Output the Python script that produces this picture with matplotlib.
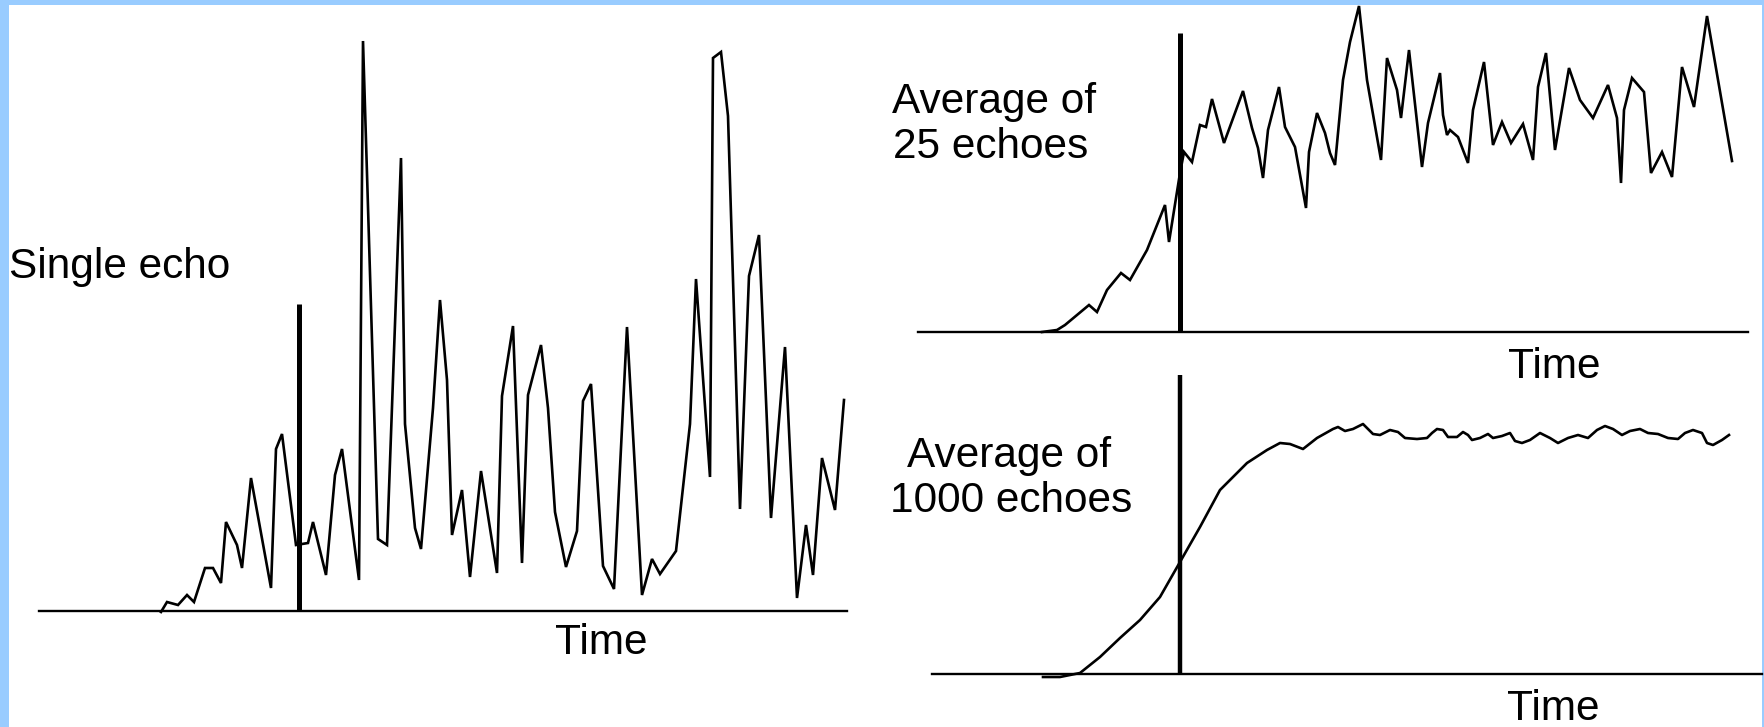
import matplotlib.pyplot as plt
from matplotlib.patches import Rectangle

W, H = 1764, 727

# Single echo: time relative to the transmit pulse, echo amplitude
single_t = [-138, -132, -121, -112, -105, -94, -86, -78, -73, -62, -57, -48, -28, -23, -17, -3,
            9, 14, 27, 36, 43, 60, 64, 79, 88, 102, 106, 116, 122, 134, 141, 148, 153, 163, 171,
            182, 198, 203, 214, 223, 229, 242, 249, 256, 267, 278, 284, 292, 304, 315, 328, 343,
            353, 361, 377, 391, 397, 411, 414, 422, 429, 441, 450, 460, 472, 486, 498, 507, 514,
            523, 536, 545]
single_amp = [-1, 9, 6, 16, 9, 43, 43, 28, 89, 66, 43, 133, 23, 162, 177, 66, 68, 89, 36, 136,
              162, 31, 570, 72, 66, 453, 187, 83, 62, 203, 311, 231, 76, 121, 34, 140, 38, 215,
              285, 48, 216, 266, 203, 99, 44, 80, 210, 227, 45, 22, 284, 16, 52, 37, 60, 187, 332,
              134, 553, 559, 495, 102, 335, 376, 93, 264, 13, 86, 36, 153, 101, 211]

# Average of 25 echoes
avg25_t = [-138, -123, -115, -103, -91, -83, -73, -59, -50, -33, -15, -11, 0, 4, 12, 20, 26, 32,
           44, 63, 72, 78, 83, 88, 99, 105, 115, 126, 129, 137, 145, 150, 155, 163, 170, 179, 187,
           201, 207, 217, 221, 229, 242, 248, 260, 263, 267, 270, 278, 288, 293, 304, 313, 322,
           331, 343, 353, 358, 366, 375, 389, 400, 413, 428, 437, 441, 444, 452, 464, 471, 482,
           492, 502, 514, 527, 552]
avg25_amp = [0, 2, 7, 17, 27, 20, 42, 59, 52, 82, 127, 90, 159, 180, 170, 207, 205, 233, 189,
             241, 204, 184, 154, 202, 245, 205, 185, 124, 180, 219, 199, 179, 167, 252, 290, 326,
             252, 172, 274, 242, 214, 282, 165, 209, 259, 217, 197, 202, 195, 169, 222, 270, 187,
             210, 189, 208, 172, 245, 279, 182, 264, 232, 214, 247, 214, 149, 222, 254, 240, 159,
             180, 155, 265, 225, 316, 171]

# Average of 1000 echoes
avg1000_t = [-137, -120, -100, -80, -60, -40, -20, 0, 20, 40, 67, 87, 100, 110, 123, 137, 153,
             158, 165, 173, 183, 193, 200, 210, 218, 225, 237, 247, 252, 257, 263, 268, 277, 283,
             288, 292, 300, 308, 313, 322, 330, 335, 342, 350, 360, 370, 378, 388, 398, 408, 417,
             425, 433, 442, 450, 460, 468, 478, 488, 498, 505, 513, 522, 527, 533, 542, 549]
avg1000_amp = [-3, -3, 1, 17, 36, 54, 77, 112, 147, 184, 211, 224, 231, 230, 225, 236, 245, 247,
               243, 245, 250, 240, 239, 244, 242, 236, 235, 236, 241, 245, 244, 237, 237, 242, 239,
               234, 236, 240, 236, 238, 241, 233, 231, 234, 241, 236, 231, 236, 239, 236, 244, 248,
               245, 239, 243, 245, 241, 240, 236, 235, 241, 244, 241, 231, 229, 234, 239]

# height of the transmit-pulse marker in each panel
pulse_h = [307, 299, 299]

fig = plt.figure(figsize=(W / 100, H / 100), dpi=100, facecolor='#99ccff')
fig.patches.append(Rectangle((9 / W, 0), (W - 11) / W, (H - 5) / H,
                             transform=fig.transFigure, facecolor='white', edgecolor='none',
                             zorder=-5))


def panel(x0, x1, ybase, ytop, pulse_x):
    ax = fig.add_axes([x0 / W, 1 - ybase / H, (x1 - x0) / W, (ybase - ytop) / H])
    ax.set_xlim(x0 - pulse_x, x1 - pulse_x)
    ax.set_ylim(0, ybase - ytop)
    ax.axis('off')
    ax.patch.set_alpha(0)
    return ax


def label(x, y, s, ha='left'):
    fig.text(x / W, 1 - y / H, s, ha=ha, va='baseline', fontsize=30.5,
             family=['Liberation Sans', 'DejaVu Sans'], color='black')


trace = dict(color='black', lw=1.9, solid_joinstyle='miter', clip_on=False)

ax1 = panel(39, 847, 611, 5, 299)
ax1.axhline(0, color='black', lw=1.7, clip_on=False)
ax1.vlines(0, 0, pulse_h[0], color='black', lw=3.6)
ax1.plot(single_t, single_amp, **trace)

ax2 = panel(918, 1748, 332, 5, 1180)
ax2.axhline(0, color='black', lw=1.7, clip_on=False)
ax2.vlines(0, 0, pulse_h[1], color='black', lw=3.6)
ax2.plot(avg25_t, avg25_amp, **trace)

ax3 = panel(932, 1762, 674, 370, 1180)
ax3.axhline(0, color='black', lw=1.7, clip_on=False)
ax3.vlines(0, 0, pulse_h[2], color='black', lw=3.2)
ax3.plot(avg1000_t, avg1000_amp, color='black', lw=1.9, solid_joinstyle='round', clip_on=False)

label(9, 278, 'Single echo')
label(555, 654, 'Time')
label(892, 113, 'Average of')
label(893, 158, '25 echoes')
label(1508, 378, 'Time')
label(1009, 467, 'Average of', ha='center')
label(1011, 512, '1000 echoes', ha='center')
label(1507, 720, 'Time')

fig.savefig('out.png', dpi=100, facecolor=fig.get_facecolor())
